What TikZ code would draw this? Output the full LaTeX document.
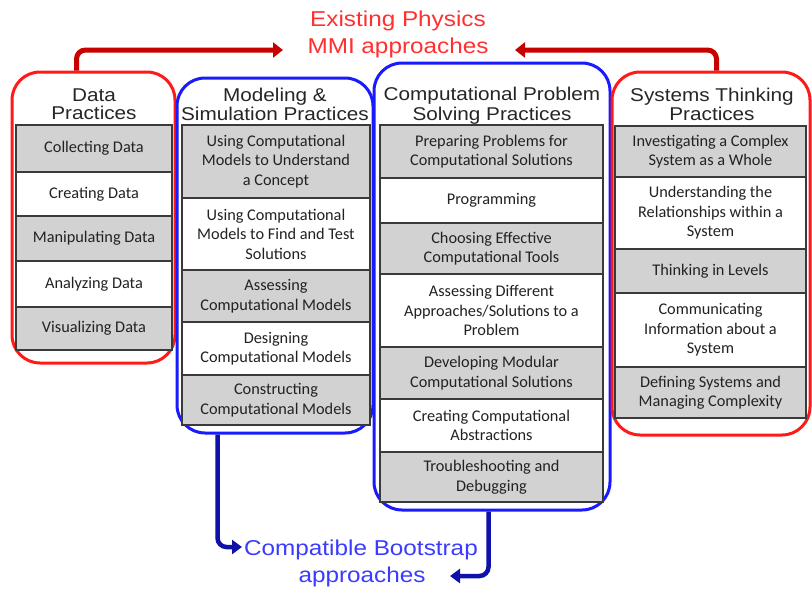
\documentclass[tikz,border=0pt]{standalone}
\usepackage{fontspec}
\setmainfont{Liberation Sans}
\newfontfamily\titlefont[FakeStretch=1.12]{Liberation Sans}
\newfontfamily\labelfont[FakeStretch=1.13]{Liberation Sans}
\newfontfamily\cellfont{Carlito}
\usetikzlibrary{arrows.meta}
\definecolor{boxred}{HTML}{FF1A1A}
\definecolor{boxblue}{HTML}{1A1AFF}
\definecolor{arrred}{HTML}{C80000}
\definecolor{arrblue}{HTML}{1010AA}
\definecolor{txtred}{HTML}{FF3030}
\definecolor{txtblue}{HTML}{3B3BFF}
\definecolor{cellgray}{HTML}{D2D2D2}
\definecolor{cellline}{HTML}{3A3A3A}
\definecolor{celltext}{HTML}{222222}
\begin{document}
\begin{tikzpicture}[x=1pt,y=-1pt,
  redbox/.style={draw=boxred, line width=3pt, rounded corners=28pt, fill=white},
  bluebox/.style={draw=boxblue, line width=3pt, rounded corners=28pt, fill=white},
  cell/.style={draw=cellline, line width=1.3pt, align=center, inner sep=0pt,
     text=celltext, font=\cellfont\fontsize{16.3}{19.5}\selectfont},
  gcell/.style={cell, fill=cellgray},
  wcell/.style={cell, fill=white},
  ttl/.style={anchor=base, inner sep=0pt, text=black!85, font=\titlefont\fontsize{18.5}{20}\selectfont},
  lbl/.style={anchor=base, inner sep=0pt, font=\labelfont\fontsize{21.5}{26}\selectfont},
  redarr/.style={draw=arrred, line width=5pt, rounded corners=9pt, -{Triangle[length=10pt,width=15pt]}},
  bluearr/.style={draw=arrblue, line width=4.5pt, rounded corners=9pt, -{Triangle[length=10pt,width=14pt]}}
]
\useasboundingbox (0,0) rectangle (812,590);
\fill[white] (0,0) rectangle (812,590);

% outer boxes
\node[redbox, minimum width=163pt, minimum height=291pt] (databox) at (93.5,217.5) {};
\node[bluebox, minimum width=196pt, minimum height=355pt] (modbox) at (275,255.5) {};
\node[bluebox, minimum width=236pt, minimum height=447pt] (cpsbox) at (492,286.5) {};
\node[redbox, minimum width=198pt, minimum height=363pt] (sysbox) at (711,253.5) {};

% titles
\node[ttl] (t1a) at (94,101.5) {Data};
\node[ttl] (t1b) at (94,119) {Practices};
\node[ttl] (t2a) at (275,101.5) {Modeling \&};
\node[ttl] (t2b) at (275,120.5) {Simulation Practices};
\node[ttl] (t3a) at (492,100.5) {Computational Problem};
\node[ttl] (t3b) at (492,120) {Solving Practices};
\node[ttl] (t4a) at (712,101.5) {Systems Thinking};
\node[ttl] (t4b) at (712,120.5) {Practices};

% data cells
\begin{scope}[every node/.append style={minimum width=156pt}]
\node[gcell, minimum height=47pt] (d1) at (94,148.5) {Collecting Data};
\node[wcell, minimum height=44pt] (d2) at (94,194) {Creating Data};
\node[gcell, minimum height=45pt] (d3) at (94,238.5) {Manipulating Data};
\node[wcell, minimum height=46pt] (d4) at (94,284) {Analyzing Data};
\node[gcell, minimum height=43pt] (d5) at (94,328.5) {Visualizing Data};
\end{scope}

% modeling cells
\begin{scope}[every node/.append style={minimum width=188pt}]
\node[gcell, minimum height=73pt] (m1) at (276,161.5) {Using Computational\\Models to Understand\\a Concept};
\node[wcell, minimum height=72pt] (m2) at (276,234) {Using Computational\\Models to Find and Test\\Solutions};
\node[gcell, minimum height=52pt] (m3) at (276,296) {Assessing\\Computational Models};
\node[wcell, minimum height=53pt] (m4) at (276,348.5) {Designing\\Computational Models};
\node[gcell, minimum height=50pt] (m5) at (276,400) {Constructing\\Computational Models};
\end{scope}

% computational problem solving cells
\begin{scope}[every node/.append style={minimum width=223pt}]
\node[gcell, minimum height=53pt] (c1) at (491.5,151.5) {Preparing Problems for\\Computational Solutions};
\node[wcell, minimum height=45pt] (c2) at (491.5,200.5) {Programming};
\node[gcell, minimum height=51pt] (c3) at (491.5,248.5) {Choosing Effective\\Computational Tools};
\node[wcell, minimum height=73pt] (c4) at (491.5,310.5) {Assessing Different\\Approaches/Solutions to a\\Problem};
\node[gcell, minimum height=52pt] (c5) at (491.5,373) {Developing Modular\\Computational Solutions};
\node[wcell, minimum height=53pt] (c6) at (491.5,425.5) {Creating Computational\\Abstractions};
\node[gcell, minimum height=50pt] (c7) at (491.5,477) {Troubleshooting and\\Debugging};
\end{scope}

% systems thinking cells
\begin{scope}[every node/.append style={minimum width=191pt}]
\node[gcell, minimum height=51pt] (s1) at (710.5,151.5) {Investigating a Complex\\System as a Whole};
\node[wcell, minimum height=72pt] (s2) at (710.5,213) {Understanding the\\Relationships within a\\System};
\node[gcell, minimum height=44pt] (s3) at (710.5,271) {Thinking in Levels};
\node[wcell, minimum height=74pt] (s4) at (710.5,330) {Communicating\\Information about a\\System};
\node[gcell, minimum height=51pt] (s5) at (710.5,392.5) {Defining Systems and\\Managing Complexity};
\end{scope}

% labels
\node[lbl, text=txtred] (ex1) at (398,26.5) {Existing Physics};
\node[lbl, text=txtred] (ex2) at (398,53) {MMI approaches};
\node[lbl, text=txtblue] (cb1) at (361,555.5) {Compatible Bootstrap};
\node[lbl, text=txtblue] (cb2) at (362,582.5) {approaches};

% arrows
\coordinate (rl) at (283,50);
\coordinate (rr) at (515,50);
\coordinate (bl) at (242,547);
\coordinate (br) at (450,576);
\draw[redarr] ([xshift=66pt]databox.north west) |- (rl);
\draw[redarr] ([xshift=106pt]sysbox.north west) |- (rr);
\draw[bluearr] ([xshift=42pt]modbox.south west) |- (bl);
\draw[bluearr] ([xshift=116pt]cpsbox.south west) |- (br);
\end{tikzpicture}
\end{document}
